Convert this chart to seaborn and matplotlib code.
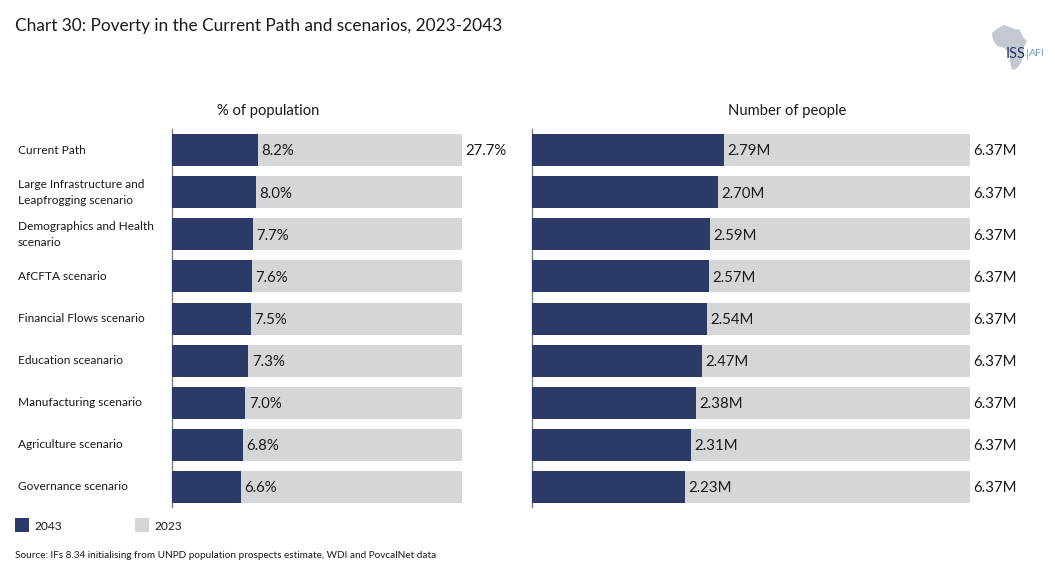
import matplotlib
matplotlib.use('Agg')
import matplotlib.pyplot as plt
import pandas as pd
import seaborn as sns
from matplotlib.patches import Polygon, Rectangle

categorias = ['Current Path', 'Large Infrastructure and\nLeapfrogging scenario',
              'Demographics and Health\nscenario', 'AfCFTA scenario',
              'Financial Flows scenario', 'Education sceanario',
              'Manufacturing scenario', 'Agriculture scenario', 'Governance scenario']
pct_2043 = [8.2, 8.0, 7.7, 7.6, 7.5, 7.3, 7.0, 6.8, 6.6]
pct_2023 = [27.7] * 9
pessoas_2043 = [2.79, 2.70, 2.59, 2.57, 2.54, 2.47, 2.38, 2.31, 2.23]
pessoas_2023 = [6.37] * 9

AZUL = '#2b3a66'
CINZA = '#d5d6d8'
TEXTO = '#1a1a1a'
W, H = 1055, 584

sns.set_theme(style='white')
plt.rcParams['font.family'] = ['Lato', 'DejaVu Sans']

dados = pd.DataFrame({'cat': categorias, 'p43': pct_2043, 'p23': pct_2023,
                      'n43': pessoas_2043, 'n23': pessoas_2023})

fig = plt.figure(figsize=(W / 100, H / 100), dpi=100)


def eixo(x0, x1, y0=129, y1=507):
    return fig.add_axes([x0 / W, 1 - y1 / H, (x1 - x0) / W, (y1 - y0) / H])


def painel(ax, col_23, col_43, fmt, titulo, pos_titulo):
    sns.barplot(data=dados, y='cat', x=col_23, color=CINZA, width=0.76,
                saturation=1, orient='h', linewidth=0, ax=ax)
    sns.barplot(data=dados, y='cat', x=col_43, color=AZUL, width=0.76,
                saturation=1, orient='h', linewidth=0, ax=ax)
    ax.set_xlim(0, dados[col_23].max())
    ax.set_ylim(8.475, -0.5)
    ax.set_xlabel('')
    ax.set_ylabel('')
    ax.set_xticks([])
    ax.tick_params(axis='y', length=0)
    sns.despine(ax=ax, top=True, right=True, bottom=True)
    ax.spines['left'].set_color('#7f7f7f')
    ax.spines['left'].set_linewidth(1)
    ax.spines['left'].set_zorder(0.5)
    for i, v in enumerate(dados[col_43]):
        ax.annotate(fmt(v), (v, i), xytext=(2.5, -1), textcoords='offset points',
                    va='center', ha='left', fontsize=10.8, color=TEXTO)
    fig.text(pos_titulo / W, 1 - 111 / H, titulo, ha='center', va='center',
             fontsize=10.6, color=TEXTO)


ax1 = eixo(172, 462)
painel(ax1, 'p23', 'p43', lambda v: f'{v:.1f}%', '% of population', 268)
ax1.set_yticks(range(9))
ax1.set_yticklabels(categorias, fontsize=8.6, color=TEXTO, ha='left', va='center', linespacing=1.55)
ax1.tick_params(axis='y', pad=111)
ax1.annotate(f'{pct_2023[0]:.1f}%', (pct_2023[0], 0), xytext=(2.5, -1),
             textcoords='offset points', va='center', ha='left', fontsize=10.8,
             color=TEXTO, annotation_clip=False)

ax2 = eixo(532, 970)
painel(ax2, 'n23', 'n43', lambda v: f'{v:.2f}M', 'Number of people', 787)
ax2.set_yticks([])
for i, v in enumerate(pessoas_2023):
    ax2.annotate(f'{v:.2f}M', (v, i), xytext=(2, -1), textcoords='offset points',
                 va='center', ha='left', fontsize=10.8, color=TEXTO, annotation_clip=False)

fig.text(15 / W, 1 - 26 / H, 'Chart 30: Poverty in the Current Path and scenarios, 2023-2043',
         fontsize=12.4, color=TEXTO, va='center', ha='left')

# legenda
for x, cor, rot in [(15, AZUL, '2043'), (135, CINZA, '2023')]:
    fig.add_artist(Rectangle((x / W, 1 - 532 / H), 14 / W, 14 / H, color=cor,
                             transform=fig.transFigure, lw=0))
    fig.text((x + 19) / W, 1 - 526 / H, rot, fontsize=8.6, color=TEXTO, va='center', ha='left')

fig.text(15 / W, 1 - 555 / H,
         'Source: IFs 8.34 initialising from UNPD population prospects estimate, WDI and PovcalNet data',
         fontsize=7.2, color=TEXTO, va='center', ha='left')

# logo
africa = [(992, 33), (998, 28), (1004, 25), (1010, 27), (1015, 29), (1020, 30), (1023, 37),
          (1027, 41), (1024, 47), (1023, 55), (1021, 63), (1016, 69), (1012, 70), (1010, 62),
          (1009, 52), (1004, 48), (997, 46), (993, 40)]
fig.add_artist(Polygon([(x / W, 1 - y / H) for x, y in africa], closed=True, color='#c3c8d1',
                       lw=0, transform=fig.transFigure))
fig.text(1006 / W, 1 - 54 / H, 'ISS', fontsize=10.5, color='#27375f', va='center', ha='left')
fig.text(1026 / W, 1 - 54 / H, '|', fontsize=8, color='#6f9fc0', va='center', ha='left')
fig.text(1029 / W, 1 - 54 / H, 'AFI', fontsize=7.5, color='#6f9fc0', va='center', ha='left')

fig.savefig('out.png', dpi=100)
